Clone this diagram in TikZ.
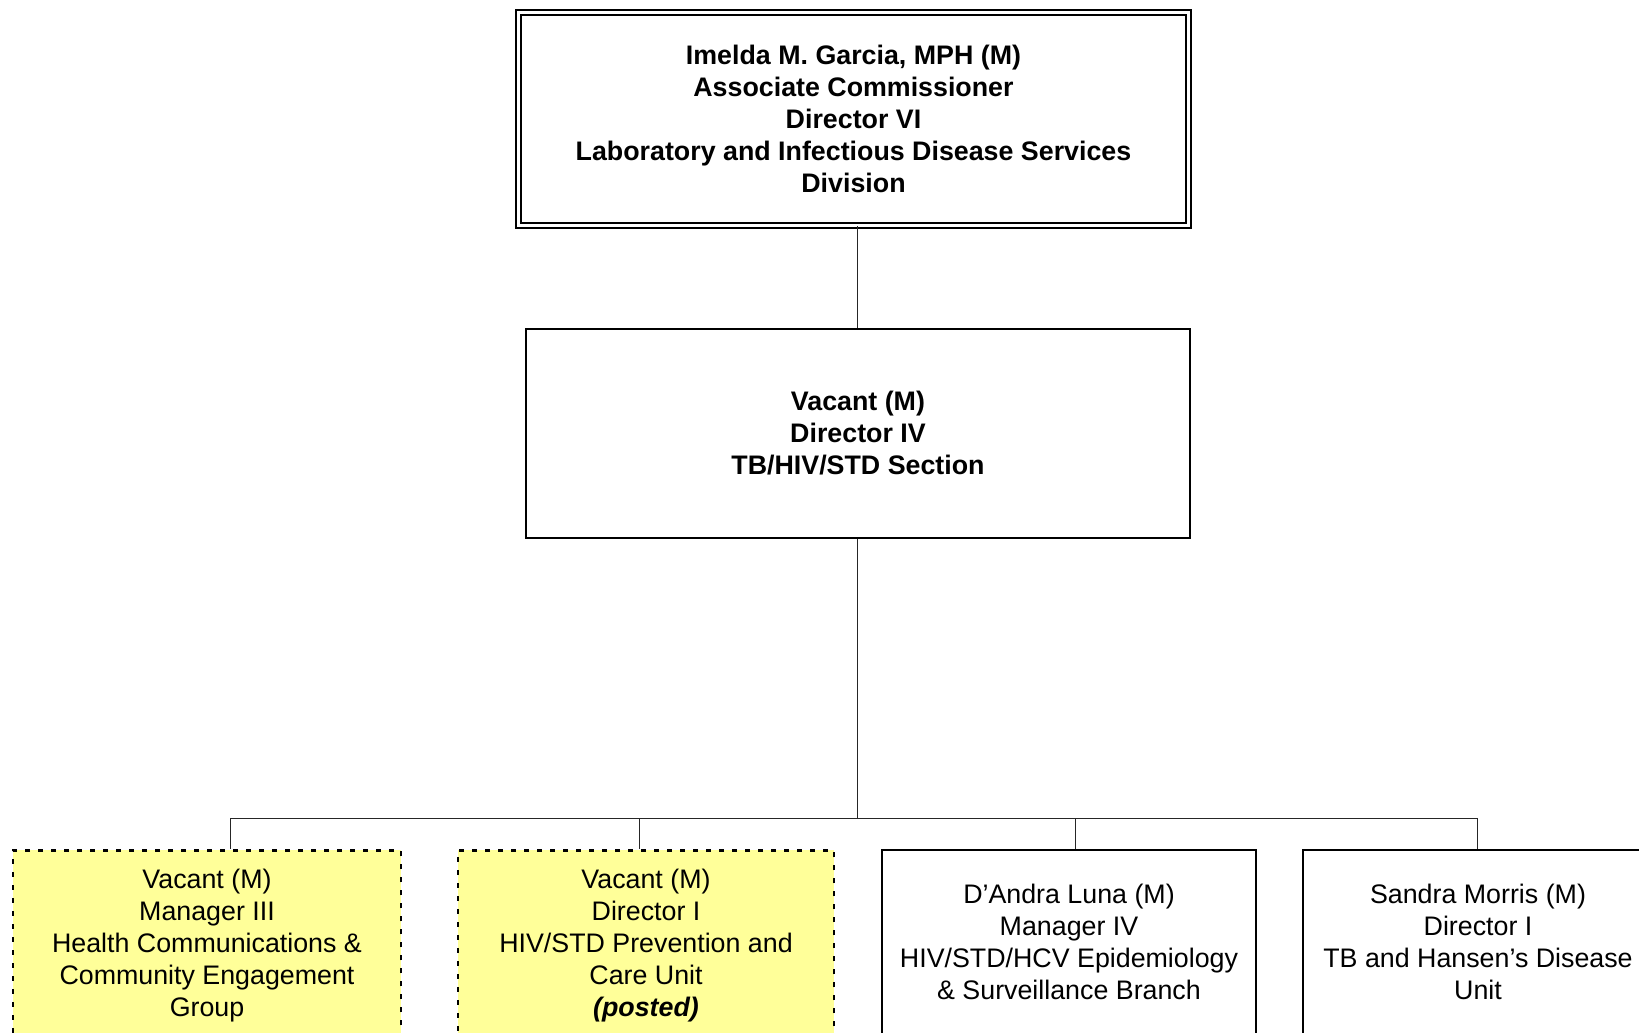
\documentclass[tikz,border=0pt]{standalone}
\usepackage{fontspec}
\setmainfont{Liberation Sans}
\usepackage{tikz}

\definecolor{vacantfill}{RGB}{255,255,153}

\tikzset{
    orgbox/.style={draw, thick, align=center, inner sep=0pt, anchor=north,
        font=\fontsize{26.8}{32}\selectfont},
    topbox/.style={orgbox, line width=1.8pt, double, double distance=3.4pt,
        font=\fontsize{26.8}{32}\selectfont\bfseries},
    midbox/.style={orgbox, line width=2pt, font=\fontsize{26.8}{32}\selectfont\bfseries},
    unitbox/.style={orgbox, line width=2pt, minimum height=184pt},
    vacantbox/.style={orgbox, fill=vacantfill, line width=2.7pt,
        dash pattern=on 5pt off 8pt, minimum height=190pt},
    link/.style={draw, line width=1pt, black!85}
}

\begin{document}
\begin{tikzpicture}[x=1pt,y=-1pt]
    \useasboundingbox (0,0) rectangle (1639,1033);

    \begin{scope}
        \node[topbox, minimum width=670pt, minimum height=213pt] (assoc) at (853.5,11.5)
            {Imelda M. Garcia, MPH (M)\\Associate Commissioner\\Director VI\\
             Laboratory and Infectious Disease Services\\Division};
        \node[midbox, minimum width=664pt, minimum height=209pt] (section) at (858,328)
            {Vacant (M)\\Director IV\\TB/HIV/STD Section};
    \end{scope}

    \begin{scope}
        \node[vacantbox, minimum width=388pt] (comm) at (207,849)
            {Vacant (M)\\Manager III\\Health Communications \&\\Community Engagement\\Group};
        \node[vacantbox, minimum width=376pt] (prev) at (646,849)
            {Vacant (M)\\Director I\\HIV/STD Prevention and\\Care Unit\\\textbf{\textit{(posted)}}};
        \node[unitbox, minimum width=374pt] (epi) at (1069,849)
            {D'Andra Luna (M)\\Manager IV\\HIV/STD/HCV Epidemiology\\\& Surveillance Branch};
        \node[unitbox, minimum width=350pt] (tb) at (1478,849)
            {Sandra Morris (M)\\Director I\\TB and Hansen's Disease\\Unit};
    \end{scope}

    \coordinate (bus) at (857,818);

    \begin{scope}
        \path[link] (assoc.south -| bus) -- (section.north -| bus);
        \path[link] (section.south -| bus) -- (bus);
        \path[link] (230,818) -- (1477,818);
        \path[link] (230,818) -- (230,849);
        \path[link] (639,818) -- (639,849);
        \path[link] (1075,818) -- (1075,849);
        \path[link] (1477,818) -- (1477,849);
    \end{scope}
\end{tikzpicture}
\end{document}
